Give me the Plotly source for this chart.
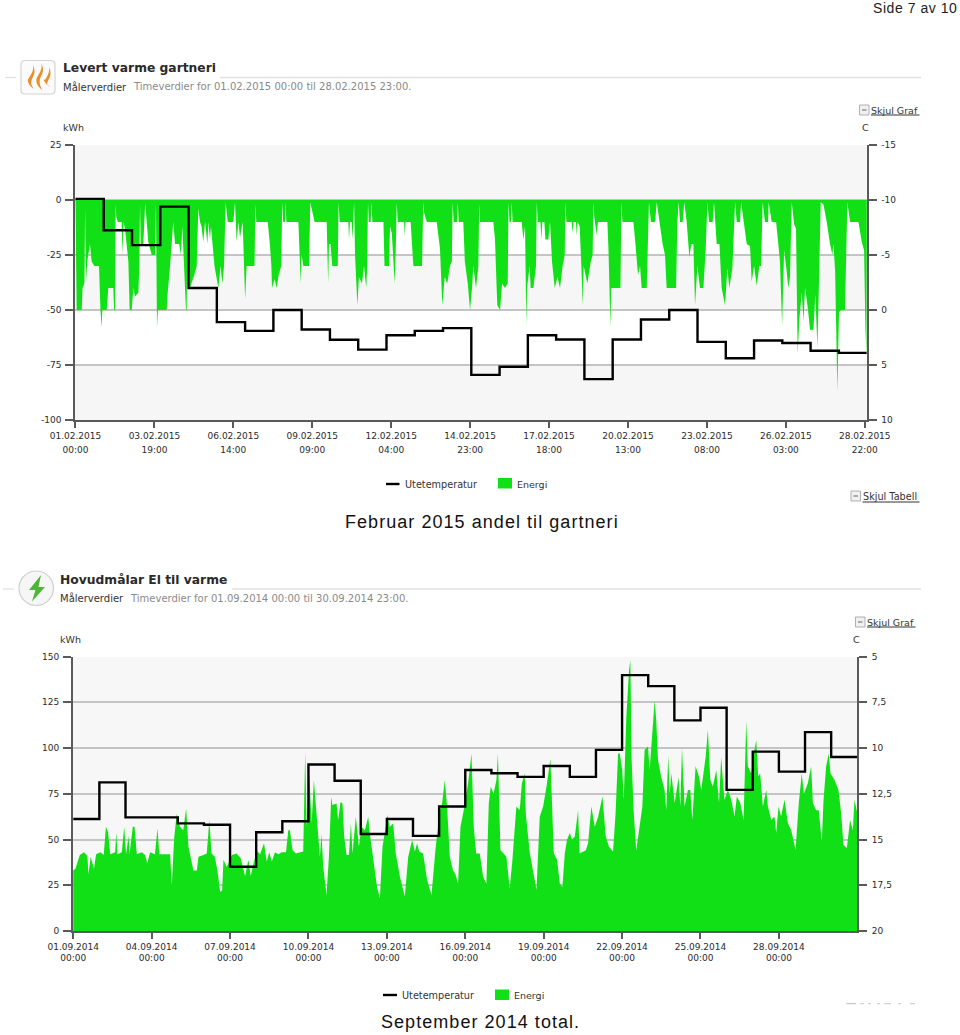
import plotly.graph_objects as go

# ---------- data ----------
feb_energy = [(0,0),(0.4,-44),(1,-50),(5.3,-50),(6,-40),(7.6,-38),(8.2,-4),(8.8,-38),(10,-28),(12.3,-20),(13.7,-28),(16,-30),(20,-30),(21.2,-50),(22.2,-58),(22.8,-50),(26.5,-50),(27.9,-40),(32.1,-40),(32.8,-50),(33.6,-50),(34.1,-2),(34.7,-8),(36,-10),(39.2,-10),(40,-25),(40.8,-10),(42,-13),(44.9,-28),(46,-50),(47.7,-50),(49.2,-40),(50.5,-44),(53.4,-42),(54.2,-30),(54.8,-2),(55.4,-20),(57.6,-20),(59.2,-1.5),(61.8,-19),(64.7,-25),(67.5,-25),(68.3,-2),(69.2,-58),(70,-50),(77.4,-50),(78.3,-42),(80.3,-30),(83,-10),(84.5,-20),(88,-20),(89.6,-25),(90.7,-12),(93.8,-50),(94.4,-50),(95.2,-5),(97.2,-40),(100.9,-34),(102.9,-30),(104.3,-4),(105.7,-10),(107,-12),(108.5,-19),(110,-10),(112,-20),(112.8,-10),(114.2,-18),(115,-12),(118,-30),(121.3,-40),(123.2,-30),(124.7,-38),(126.1,-30),(127.5,-1),(129.2,-10),(134,-10),(135.4,-1),(136.8,-19),(138.3,-10),(139.7,-17),(141.9,-10),(144,-45),(145.3,-30),(152,-30),(152.7,-2),(153.5,-10),(163.2,-10),
(165,-20),(166.3,-30),(166.8,-40),(169,-36),(170.8,-40),(172.5,-34),(174.7,-30),(175.5,-1),(176.3,-10),(177.8,-10),(178.4,-1),(179,-10),(189.2,-10),(190,-22),(191.2,-38),(191.9,-25),(193.5,-30),(198.3,-30),(199.3,-1),(200.5,-4),(203,-10),(213.2,-10),(214.5,-38),(215.2,-20),(216.5,-20),(218,-30),(222.6,-30),(223.4,-1),(224.2,-10),(231.6,-10),(232.2,-18),(233,-10),(234.5,-10),(235.2,-18),(235.8,-10),(236.5,-1),(237.3,-25),(239.3,-48),(240.6,-35),(243.2,-38),(244.9,-30),(246.8,-40),(247.6,-30),(248.3,-1),(249,-10),(250.6,-10),(251.2,-1),(252,-10),(261.4,-10),(262.3,-30),(266.2,-30),(267,-12),(268.5,-15),(270,-28),(271,-38),(272,-20),(272.7,-1),(273.5,-10),(278.9,-10),(279.5,-16),(280.2,-10),(284.5,-10),(285.7,-20),(286.8,-30),(294.2,-30),(295.2,-1),(296,-6),(298.3,-10),(306.6,-10),(309.4,-22),(311.4,-48),(313.4,-35),(315.6,-38),(317.9,-30),(319.5,-28),(320.2,-1),(321,-10),(323.8,-10),(324.5,-1),(325.3,-10),(329.2,-10),(330.5,-28),(333,-38),(334.9,-50),(336.6,-40),(337.7,-30),(340,-40),(342,-30),(342.7,-2),(343.4,-10),(354.7,-10),(356.1,-18),(357.5,-40),(358.1,-48),(360.4,-50),(362.1,-38),(364.6,-40),(366.9,-38),(367.6,-1),(368.4,-10),(369.7,-10),(370.3,-1),(371,-10),(378.8,-10),(380.2,-18),(381.6,-12),(382.7,-57),(383.3,-40),(385.5,-30),(386.4,-40),(388.7,-40),(390.9,-30),(391.6,-1),(392.4,-10),(394.7,-10),(395.5,-18),(396.3,-10),(398,-10),(398.9,-18),(401.4,-18),(402.8,-10),(404.5,-28),(406.8,-40),(409.1,-35),(411.3,-40),(413.5,-30),(415.3,-25),(415.9,-1),(416.7,-10),(421.2,-10),(422,-15),(422.8,-10),(424.8,-10),(425.5,-16),(426.3,-10),(428,-12),(429.4,-30),(430.6,-48),(431.4,-30),(434.5,-38),(437.4,-28),(439,-25),(439.6,-1),(440.4,-8),(442.5,-16),(443.5,-10),(451.5,-10),(452.4,-22),(454.1,-58),(454.7,-40),(462.6,-40),(463.4,-1),(464.3,-10),(473.6,-10),(475.3,-20),(477.5,-34),(479.2,-30),(480.6,-40),
(484.9,-40),(486.8,-1),(488.5,-10),(492,-10),(493.4,-1),(495.6,-10),(498.4,-20),(500.4,-25),(501.8,-40),(509.8,-40),(510.9,-10),(512,-1),(513.2,-10),(515.4,-10),(516.8,-1),(518.8,-10),(521.1,-26),(522.2,-22),(523,-20),(524.5,-20),(525.9,-48),(527.9,-30),(530.1,-40),(533,-40),(535,-22),(536.4,-1),(537.8,-10),(540.9,-10),(542,-1),(544.3,-20),(546.6,-20),(548.5,-40),(551.4,-48),(553.3,-31),(555,-40),(557.6,-31),(559.9,-1),(561.3,-10),(564.1,-10),(565,-1),(567.5,-10),(569.8,-20),(572.6,-21),(574,-37),(576,-30),(578.3,-39),(580.5,-30),(582,-30),(583.3,-1),(585.3,-10),(587.9,-10),(588.4,-1),(591,-10),(594.7,-10),(596.6,-20),(598,-28),(599.8,-57),(601.5,-23),(603.2,-30),(605.1,-40),(606.5,-35),(608,-1),(610,-11),(611.6,-13),(613,-70),(614.5,-54),(616.5,-42),(617.9,-55),(619.3,-40),(621.6,-49),(623.5,-59),(626.4,-59),(628,-43),(629.8,-67),(631.5,-28),(632.6,-1),(634.9,-2),(637.7,-10),(640.5,-20),(642.5,-25),(643.3,-20),(644.8,-32),(646.7,-87),(648.1,-51),(649.8,-50),(653.2,-50),(655.2,-1),(657.5,-10),(663.2,-10),(664.6,-10),(667.4,-19),(669.4,-23),(670.5,-58),(671.5,-72),(672,0)]

feb_temp_hours = [0,24,48,72,96,120,144,168,192,216,240,264,288,312,336,360,384,408,432,456,480,504,528,552,576,600,624,648,671.7]
feb_temp_c = [-10.1,-7.25,-5.9,-9.4,-2.0,1.1,1.9,0.0,1.77,2.7,3.6,2.3,1.9,1.65,5.9,5.16,2.3,2.68,6.28,2.68,0.87,0.0,2.9,4.38,2.77,3.0,3.7,3.9,3.9]

sep_energy = [(0,33),(2,34),(6,41.5),(10,43),(13,41),(14,31),(16,40.6),(19,34),(21,42),(25,43),(28,41.5),(30,57),(32,54),(34,42),(38.5,43),(39.5,54),(40.7,42),(44.6,43),(46.8,57),(48.6,42),
(50.8,52),(51.7,42),(54.7,57),(56.3,57),(58.4,42),(63,43),(66,41.5),(68,37),(70.6,43),(75,42),(77.4,56),(79,42),(86,42),(89,42),(90.5,25),(92.7,51),(95,64),(98,57),(101,55),(103.7,67),
(105.8,46),(108,39),(110.4,33),(113.5,33),(115,40.6),(119.6,41.5),(122.6,42.4),(125,60.6),(127,42.4),(130,40.6),(132.4,33),(134.9,21.5),(136.7,22),(138,39),(141,35),(145.6,41.5),(150,42.4),(153.8,39.7),(157.8,30),(160.9,39),
(163,30),(164.8,35),(168.5,44),(171.6,42),(175.2,48),(177.7,38),(180,43),(182.3,38),(185.3,43),(188.4,42),(191.4,43),(195.4,43),(197.5,55),(199,55),
(201.4,44.3),(204.5,42.4),(211.2,43.4),(213,98),(214.3,57),(216.7,86),(218.9,58.8),(221,82.5),(224,60.6),(226.5,40.6),(228,53),(229.6,35),(232.6,19.7),(234.8,40.6),(236.9,73.4),(238,68.8),(241.8,69.7),(243.3,60.6),(245.5,70.6),(247.3,69.7),(248.8,51.5),(251,41.5),(253.2,41.5),(255,58.8),(256.5,42.4),(259.5,62.5),(262.3,46),(264.7,57),(267.8,55),(270.9,62.5),(272.4,53),(276,37),(279,24),(281.6,17.9),(284,46),(288.6,63.4),(290.7,57),(293.8,58.8),(296.2,42.4),(300,29.7),(304.5,18.8),(307.6,40.6),(311.2,49.7),(313.7,43.4),(315.8,48),(317.6,43.4),(321.3,42.4),(325,27.9),(329,19.7),(332.6,44.3),(336.6,66),(338.7,69.7),(341.2,82.5),(343.3,68),(345.8,40.6),(348.8,33),(351,31),(353.4,26),(355.6,57),(358.6,66),(362.6,80.7),(365.7,97),(367.8,57),(370,42.4),(373.3,42.4),(376.4,29.7),(379.4,26),(381.6,69.7),(383.4,78.8),(386,75),(388.6,82.5),(390,97),(392.3,44.3),(397.8,40.6),(400.8,23.3),(403.3,38.8),(406.9,68),(410,66),(412,80.7),(414.6,86),
(415.6,64),(419.3,42.5),(422.3,33.5),(425.4,22.5),(428.4,62.5),(431.5,68),(434.6,79),(438.2,94),(441.3,42.5),(444.3,39),(446.8,26),(449.2,24),(451.4,42.5),(453.5,50),(456,53.5),(458,50),(460.6,51.6),(463.6,66),(465,42.5),(470.6,44),(472.8,48),(475.8,68),(478.9,57),(482,62.5),(486,73.5),(489,51.6),(492,46),(495.7,43.5),(498,64),(500.3,97),
(501.8,97),(504.2,88),(505.5,71.7),(507.9,117),(510.4,142.6),(511.6,148),(512.8,93.5),(514.6,66),(517,44),(519.5,55),(522.6,68),(524.7,99),(527.8,100.8),(529.3,88),(531.5,106),(533.9,126),(535.4,115),(537,93.5),(540,84),(543,77),(544.6,66),(546.4,96),(547.7,75),(549.2,86),(552.3,70),(555.9,84),(557.5,68),(559,100),(561.4,68),(564.5,77),(566.6,77),(568.5,60.7),(571.5,90),(574.6,84.4),(576.7,77),(578.9,86),(580.7,95),(582.8,110),(585,82.6),(587.4,79),(590.5,88),(593,70),(595,95),(598,71.7),(601.2,77),(604.2,71.7),(607.3,62.6),(609.4,73.5),(612.5,70),(615.6,60.7),(618,115),(619.5,90),(622.6,86),(625,97),(627.2,104.4),(629,84.4),(630.8,86),(633.3,68),(636.4,77),(637.9,68),(641,60.7),(644,62.6),(645.5,53.5),(647.7,68),(650,62.6),(653.2,71.7),(656.2,59),(659.3,55),(663.3,44.4),(666.3,70),(669,86),(670.9,75),(674.6,80.8),(677.6,90),(679.2,70),(682.2,66),(684.6,66),(687.4,49),(689,71.7),(691.4,90),(693.8,97),(695.4,86),(699,82.6),(702.7,77),(705.2,64.4),(707.3,47),(710.4,45.3),(713.4,60.7),(715.9,55),(717.4,71.7),(719.5,64.4),(720,64.4)]

sep_temp_hours = [0,24,48,72,96,120,144,168,192,216,240,264,288,312,336,360,384,408,432,456,480,504,528,552,576,600,624,648,672,696,720]
sep_temp_c = [13.88,11.88,13.79,13.79,14.12,14.19,16.49,14.6,14.0,10.9,11.79,14.7,13.88,14.8,13.2,11.2,11.38,11.58,10.98,11.58,10.1,6.02,6.62,8.49,7.8,12.29,10.2,11.29,9.13,10.49,10.49]

feb_tick_hours = [0,67,134,201,268,335,402,469,536,603,670]
feb_tick_labels = ["01.02.2015<br>00:00","03.02.2015<br>19:00","06.02.2015<br>14:00","09.02.2015<br>09:00","12.02.2015<br>04:00",
                   "14.02.2015<br>23:00","17.02.2015<br>18:00","20.02.2015<br>13:00","23.02.2015<br>08:00","26.02.2015<br>03:00","28.02.2015<br>22:00"]
sep_tick_hours = [0,72,144,216,288,360,432,504,576,648]
sep_tick_labels = ["01.09.2014<br>00:00","04.09.2014<br>00:00","07.09.2014<br>00:00","10.09.2014<br>00:00","13.09.2014<br>00:00",
                   "16.09.2014<br>00:00","19.09.2014<br>00:00","22.09.2014<br>00:00","25.09.2014<br>00:00","28.09.2014<br>00:00"]
feb_kwh_ticks = [25,0,-25,-50,-75,-100]
feb_c_ticks = [-15,-10,-5,0,5,10]
sep_kwh_ticks = [150,125,100,75,50,25,0]
sep_c_ticks = [5,7.5,10,12.5,15,17.5,20]
sep_c_labels = ["5","7,5","10","12,5","15","17,5","20"]

GREEN = "#12e016"
APP_FONT = "DejaVu Sans"
W, H = 960, 1035
px = lambda x: x / W
py = lambda y: 1 - y / H

feb_hours = [p[0] for p in feb_energy]
feb_kwh = [p[1] for p in feb_energy]
sep_hours = [p[0] for p in sep_energy]
sep_kwh = [p[1] for p in sep_energy]

fig = go.Figure()
fig.add_trace(go.Scatter(x=feb_hours, y=feb_kwh, name="Energi", mode="lines", fill="tozeroy", fillcolor=GREEN,
                         line=dict(width=0, color=GREEN), xaxis="x", yaxis="y", showlegend=False))
fig.add_trace(go.Scatter(x=feb_temp_hours, y=feb_temp_c, name="Utetemperatur", mode="lines", line=dict(color="#000", width=2.4, shape="hv"),
                         xaxis="x", yaxis="y2", showlegend=False))
fig.add_trace(go.Scatter(x=sep_hours, y=sep_kwh, name="Energi", mode="lines", fill="tozeroy", fillcolor=GREEN,
                         line=dict(width=0, color=GREEN), xaxis="x2", yaxis="y3", showlegend=False))
fig.add_trace(go.Scatter(x=sep_temp_hours, y=sep_temp_c, name="Utetemperatur", mode="lines", line=dict(color="#000", width=2.4, shape="hv"),
                         xaxis="x2", yaxis="y4", showlegend=False))

tf = dict(family=APP_FONT, size=9, color="#2b2b2b")
AXC = "#5a5a5a"
GRID = "#c4c4c4"

def xax(dom, rng, vals, labels, anchor):
    return dict(domain=dom, range=rng, tickmode="array", tickvals=vals, ticktext=labels, ticks="outside", ticklen=6,
                tickcolor=AXC, tickwidth=1.5, showline=True, linecolor=AXC, linewidth=1.5, showgrid=False, zeroline=False,
                tickfont=tf, anchor=anchor, tickangle=0, automargin=False)

def yax(dom, rng, vals, labels, anchor, side, grid, overlaying=None):
    d = dict(domain=dom, range=rng, tickmode="array", tickvals=vals, ticktext=labels, ticks="outside", ticklen=8,
             tickcolor=AXC, tickwidth=1.5, showline=True, linecolor=AXC, linewidth=1.5, showgrid=grid, gridcolor=GRID, gridwidth=1.5,
             zeroline=False, tickfont=tf, anchor=anchor, side=side, automargin=False, ticklabelstandoff=3 if side == "right" else 2)
    if overlaying:
        d["overlaying"] = overlaying
    return d

dom1_x = [px(75), px(866.8)]
dom1_y = [py(420), py(145)]
dom2_x = [px(72.8), px(857.3)]
dom2_y = [py(931), py(656.5)]

shapes = []
# alternating bands of the upper chart
for hi, lo in [(25, 0), (-25, -50), (-75, -100)]:
    shapes.append(dict(type="rect", xref="x domain", yref="y", x0=0, x1=1, y0=lo, y1=hi, layer="below", line_width=0, fillcolor="#f6f6f6"))
shapes.append(dict(type="rect", xref="x2 domain", yref="y3", x0=0, x1=1, y0=0, y1=150, layer="below", line_width=0, fillcolor="#f7f7f7"))

def rect(x0, y0, x1, y1, fill=None, line=None, lw=1):
    d = dict(type="rect", xref="paper", yref="paper", x0=px(x0), x1=px(x1), y0=py(y0), y1=py(y1), line=dict(width=lw if line else 0, color=line or "rgba(0,0,0,0)"))
    if fill:
        d["fillcolor"] = fill
    return d

def seg(x0, y0, x1, y1, color, lw=1):
    return dict(type="line", xref="paper", yref="paper", x0=px(x0), x1=px(x1), y0=py(y0), y1=py(y1), line=dict(color=color, width=lw))

def path(cmds, fill, line=None, lw=1):
    out = []
    for c in cmds:
        if c == "Z":
            out.append("Z")
        else:
            pts = " ".join(f"{px(c[i]):.5f},{py(c[i+1]):.5f}" for i in range(1, len(c), 2))
            out.append(c[0] + pts)
    return dict(type="path", xref="paper", yref="paper", path=" ".join(out), fillcolor=fill, line=dict(width=lw if line else 0, color=line or "rgba(0,0,0,0)"))

# header rules
for (a, b, y) in [(5, 16, 77.5), (220, 921, 77.5), (3, 14, 589), (232, 921, 589)]:
    shapes.append(seg(a, y, b, y, "#e2e2e2", 1.3))

# flame tile
shapes.append(path([("M", 25, 60.5), ("L", 51, 60.5), ("Q", 55, 60.5, 55, 65), ("L", 55, 90), ("Q", 55, 94, 51, 94), ("L", 25, 94), ("Q", 21, 94, 21, 90), ("L", 21, 65), ("Q", 21, 60.5, 25, 60.5), "Z"],
                   "#fbfbfb", "#d4d4d4", 1.2))
for dx, top, bot in [(0, 65, 89), (8.5, 63.5, 90), (16, 67, 87)]:
    x = 33 + dx
    shapes.append(path([("M", x, top), ("C", x + 3, top + 7, x + 1, top + 10, x - 1, top + 14), ("C", x - 3, top + 19, x - 1, bot - 3, x + 1, bot),
                        ("C", x - 4, bot - 3, x - 7, bot - 9, x - 4, top + 13), ("C", x - 2, top + 9, x + 1, top + 6, x, top), "Z"], "#e8912c"))
# bolt disc
shapes.append(dict(type="circle", xref="paper", yref="paper", x0=px(19), x1=px(53.5), y0=py(605.5), y1=py(571),
                   fillcolor="#f6f6f6", line=dict(color="#cfcfcf", width=1.2)))
shapes.append(path([("M", 41, 575), ("L", 29, 590), ("L", 35.5, 590), ("L", 32, 601.5), ("L", 45, 587), ("L", 38.5, 587), "Z"], "#4cb53a"))

# top-right link boxes
for (a, b, y0, y1) in [(859.5, 869, 105, 115), (851, 860.5, 491, 501), (855.5, 865, 617, 627)]:
    shapes.append(rect(a, y0, b, y1, "#f0f0f0", "#b0b0b0", 1))
    shapes.append(seg(a + 2.5, (y0 + y1) / 2, b - 2.5, (y0 + y1) / 2, "#666", 1))
# underlines
for (a, b, y) in [(871, 919.5, 115), (862.5, 919.5, 502), (867, 915.5, 627)]:
    shapes.append(seg(a, y, b, y, "#333", 1))
# cut-off bottom link of the second chart
shapes.append(seg(846.5, 1003.6, 856, 1003.6, "#c4c4c4", 1.2))
for a, b in [(860, 864), (868, 871), (877, 880), (884, 891), (898, 901), (910, 915)]:
    shapes.append(seg(a, 1003.6, b, 1003.6, "#d2d2d2", 1.2))

# manual legend swatches
shapes.append(seg(386, 484, 399.5, 484, "#000", 2.4))
shapes.append(rect(498, 478, 512, 488.5, GREEN))
shapes.append(seg(383, 995, 397, 995, "#000", 2.4))
shapes.append(rect(495, 989.5, 509, 1000, GREEN))

def txt(x, y, s, size=9, color="#333", anchor="left", family=APP_FONT):
    return dict(xref="paper", yref="paper", x=px(x), y=py(y), text=s, showarrow=False, xanchor=anchor, yanchor="middle",
                font=dict(family=family, size=size, color=color), borderpad=0, borderwidth=0, align=anchor)

CAP = "Liberation Sans"
ann = [
    txt(873, 8, "Side 7 av 10", 14, "#222", family=CAP),
    txt(345, 522, "Februar 2015 andel til gartneri", 18, "#111", family=CAP),
    txt(381, 1022, "September 2014 total.", 18, "#111", family=CAP),
    txt(63, 68.5, "<b>Levert varme gartneri</b>", 12.3, "#2a2a2a"),
    txt(63, 86.5, "Målerverdier", 10, "#333"),
    txt(133, 86.5, "Timeverdier for 01.02.2015 00:00 til 28.02.2015 23:00.", 10, "#8a8a8a"),
    txt(60, 580, "<b>Hovudmålar El til varme</b>", 12.3, "#2a2a2a"),
    txt(60, 598, "Målerverdier", 10, "#333"),
    txt(130, 598, "Timeverdier for 01.09.2014 00:00 til 30.09.2014 23:00.", 10, "#8a8a8a"),
    txt(62.5, 127, "kWh", 9.5), txt(862, 127, "C", 9.5),
    txt(60, 639, "kWh", 9.5), txt(853, 639, "C", 9.5),
    txt(871, 110, "Skjul Graf", 9.5), txt(862.5, 496, "Skjul Tabell", 9.7), txt(867, 622, "Skjul Graf", 9.5),
    txt(405, 484, "Utetemperatur", 9.7), txt(517, 484, "Energi", 9.5),
    txt(402, 995, "Utetemperatur", 9.7), txt(514, 995, "Energi", 9.5),
]

fig.update_layout(
    width=W, height=H, autosize=False, margin=dict(l=0, r=0, t=0, b=0, pad=0),
    paper_bgcolor="#fff", plot_bgcolor="#ffffff", showlegend=False, hovermode=False,
    xaxis=xax(dom1_x, [-0.4, 671.7], feb_tick_hours, feb_tick_labels, "y"),
    yaxis=yax(dom1_y, [-100, 25], feb_kwh_ticks, [str(v) for v in feb_kwh_ticks], "x", "left", True),
    yaxis2=yax(dom1_y, [10, -15], feb_c_ticks, [str(v) for v in feb_c_ticks], "x", "right", False, "y"),
    xaxis2=xax(dom2_x, [-0.4, 720], sep_tick_hours, sep_tick_labels, "y3"),
    yaxis3=yax(dom2_y, [0, 150], sep_kwh_ticks, [str(v) for v in sep_kwh_ticks], "x2", "left", True),
    yaxis4=yax(dom2_y, [20, 5], sep_c_ticks, sep_c_labels, "x2", "right", False, "y3"),
    shapes=shapes, annotations=ann,
)

POST = """
document.body.style.margin='0';
function tune(){
  document.querySelectorAll('.annotation-text').forEach(function(t){
    var s=t.textContent;
    if(s.indexOf('Februar')===0||s.indexOf('September')===0){t.style.letterSpacing='1.05px';}
    if(s.indexOf('Side 7')===0){t.style.letterSpacing='0.55px';}
  });
  document.querySelectorAll('.xtick text').forEach(function(t){
    var l=t.querySelectorAll('tspan.line');
    if(l.length>1){l[1].setAttribute('dy','1.55em');}
  });
}
tune(); setTimeout(tune,100);
"""
fig.write_html("out.html", config=dict(displayModeBar=False), post_script=POST)
